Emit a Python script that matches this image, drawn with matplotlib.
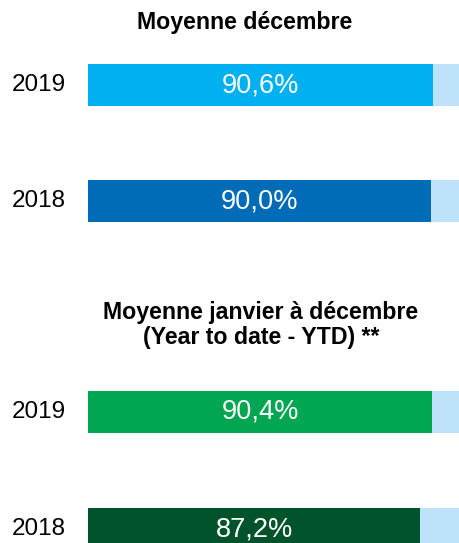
import matplotlib.pyplot as plt

plt.rcParams['font.family'] = ['Liberation Sans', 'DejaVu Sans']

# data
years = ["2019", "2018"]
dec_values = [90.6, 90.0]
ytd_values = [90.4, 87.2]
dec_colors = ["#00B0F0", "#006BB6"]
ytd_colors = ["#00A651", "#00532A"]
bg_color = "#BDE2FA"
title_dec = "Moyenne décembre"
title_ytd = "Moyenne janvier à décembre\n(Year to date - YTD) **"

W, H = 459, 543
fig = plt.figure(figsize=(W / 100, H / 100), dpi=100)

x0 = 88          # left edge of bars in px
full = 381       # px for 100 %
xmax = 100 * (W - x0) / full


def px_axes(top, bottom):
    return fig.add_axes([x0 / W, 1 - bottom / H, (W - x0) / W, (bottom - top) / H])


def draw_group(ax, values, colors, ylim):
    pos = list(range(len(values)))
    ax.barh(pos, [100] * len(values), height=0.362, color=bg_color, linewidth=0)
    ax.barh(pos, values, height=0.362, color=colors, linewidth=0)
    for p, v in zip(pos, values):
        ax.text(v / 2, p, f"{v:.1f}%".replace(".", ","), color="white",
                fontsize=19.6, ha="center", va="center")
        ax.text(-22 / full * 100, p, years[p], color="black", fontsize=17.5,
                ha="right", va="center")
    ax.set_xlim(0, xmax)
    ax.set_ylim(*ylim)
    ax.axis("off")


ax1 = px_axes(27, 259)
draw_group(ax1, dec_values, dec_colors, (1.5, -0.5))

ax2 = px_axes(353.5, H)
draw_group(ax2, ytd_values, ytd_colors, (-0.5 + (H - 353.5) / 117, -0.5))

fig.text(245 / W, 1 - 22 / H, title_dec, fontsize=16.7, fontweight="bold",
         ha="center", va="center")
fig.text(261 / W, 1 - 325 / H, title_ytd, fontsize=16.7, fontweight="bold",
         ha="center", va="center", linespacing=1.1)

fig.savefig("out.png", dpi=100)
